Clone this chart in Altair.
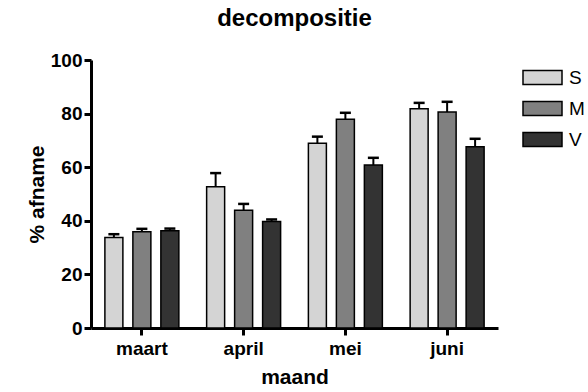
import altair as alt
import pandas as pd

months = ["maart", "april", "mei", "juni"]
groups = ["S", "M", "V"]
colors = ["#d4d4d4", "#808080", "#333333"]

values_S = [33.8, 52.7, 68.9, 81.8]
values_M = [35.9, 43.9, 77.9, 80.6]
values_V = [36.3, 39.7, 60.8, 67.6]
err_S = [1.2, 5.1, 2.5, 2.2]
err_M = [1.1, 2.4, 2.4, 3.8]
err_V = [0.8, 0.8, 2.7, 3.0]

rows = []
for g, vals, errs in [("S", values_S, err_S), ("M", values_M, err_M), ("V", values_V, err_V)]:
    for m, v, e in zip(months, vals, errs):
        rows.append({"maand": m, "groep": g, "waarde": v, "boven": v + e})
df = pd.DataFrame(rows)

FONT = "Liberation Sans"

x_axis = alt.Axis(labelAngle=0, labelAlign="center", labelBaseline="top",
                  labelFontSize=19, labelFontWeight="bold",
                  titleFontSize=21, titleFontWeight="bold", titlePadding=8,
                  domainWidth=3, domainColor="black", tickColor="black",
                  tickWidth=3, tickSize=7, labelPadding=4, labelColor="black",
                  titleColor="black", labelFont=FONT, titleFont=FONT)
x_scale = alt.Scale(paddingInner=0.273, paddingOuter=0.1365)
xoff = alt.XOffset("groep:N", sort=groups,
                   scale=alt.Scale(paddingInner=0.357, paddingOuter=0))

y_scale = alt.Scale(domain=[0, 100], nice=False)
y_axis = alt.Axis(values=[0, 20, 40, 60, 80, 100], grid=False,
                  labelFontSize=19, labelFontWeight="bold",
                  titleFontSize=21, titleFontWeight="bold", titlePadding=3,
                  domainWidth=3, domainColor="black", tickColor="black",
                  tickWidth=3, tickSize=7, labelPadding=2, labelColor="black",
                  titleColor="black", labelFont=FONT, titleFont=FONT)

bars = alt.Chart(df).mark_bar(stroke="black", strokeWidth=1.5, opacity=1).encode(
    x=alt.X("maand:N", sort=months, title="maand", scale=x_scale, axis=x_axis),
    xOffset=xoff,
    y=alt.Y("waarde:Q", scale=y_scale, title="% afname", axis=y_axis),
    color=alt.Color("groep:N", sort=groups, title=None,
                    scale=alt.Scale(domain=groups, range=colors),
                    legend=alt.Legend(orient="none", legendX=431, legendY=-3,
                                      symbolType="M-1,-0.36L1,-0.36L1,0.36L-1,0.36Z",
                                      symbolSize=1521, symbolStrokeColor="black",
                                      symbolStrokeWidth=1.5, symbolOpacity=1,
                                      labelFontSize=19, labelFont=FONT, labelColor="black",
                                      labelOffset=6, rowPadding=0, padding=0)),
)

rules = alt.Chart(df).mark_rule(color="black", strokeWidth=2).encode(
    x=alt.X("maand:N", sort=months, title="maand", scale=x_scale, axis=x_axis),
    xOffset=xoff,
    y=alt.Y("waarde:Q", scale=y_scale, title="% afname", axis=y_axis),
    y2="boven:Q",
)

caps = alt.Chart(df).mark_tick(color="black", thickness=2.5, size=11, opacity=1).encode(
    x=alt.X("maand:N", sort=months, title="maand", scale=x_scale, axis=x_axis),
    xOffset=xoff,
    y=alt.Y("boven:Q", scale=y_scale, title="% afname", axis=y_axis),
)

chart = alt.layer(rules, caps, bars).properties(
    width=407, height=268,
    title=alt.Title("decompositie", fontSize=24, fontWeight="bold", font=FONT,
                    color="black", anchor="middle", offset=20),
    autosize=alt.AutoSizeParams(type="none"),
    padding={"left": 91, "top": 60, "right": 90, "bottom": 64},
).configure(background="white").configure_view(stroke=None)

chart.save("out.html", embed_options={"renderer": "svg", "actions": False})
